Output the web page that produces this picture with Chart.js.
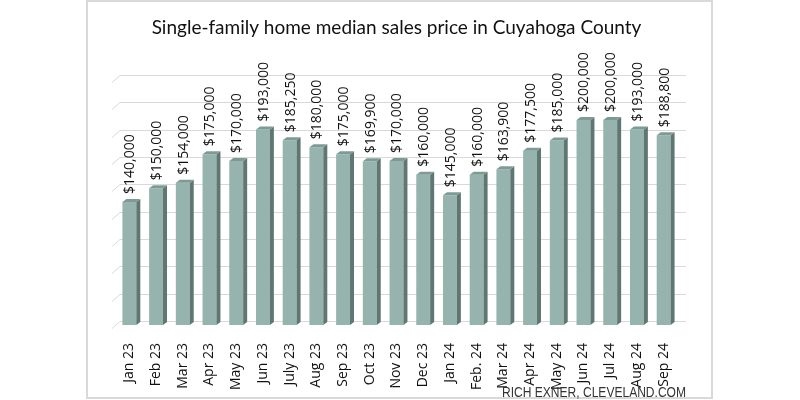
<!DOCTYPE html>
<html>
<head>
<meta charset="utf-8">
<script src="https://cdn.jsdelivr.net/npm/chart.js@4"></script>
<style>
  html, body { margin: 0; padding: 0; background: #fff; }
  #wrap { width: 800px; height: 400px; }
</style>
</head>
<body>
<div id="wrap"><canvas id="myChart"></canvas></div>
<script>
const meses = [
  "Jan 23", "Feb 23", "Mar 23", "Apr 23", "May 23", "Jun 23", "July 23",
  "Aug 23", "Sep 23", "Oct 23", "Nov 23", "Dec 23", "Jan 24", "Feb. 24",
  "Mar 24", "Apr 24", "May 24", "Jun 24", "Jul 24", "Aug 24", "Sep 24",
];
const precios = [
  140000, 150000, 154000, 175000, 170000, 193000, 185250,
  180000, 175000, 169900, 170000, 160000, 145000, 160000,
  163900, 177500, 185000, 200000, 200000, 193000, 188800,
];
const yMin = 50000;
const yMax = 230000;
const yStep = 20000;

const formato = (v) => "$" + v.toLocaleString("en-US");

// marco gris, lineas de fondo y texto de credito
const fondo = {
  id: "fondo",
  beforeDraw(chart) {
    const ctx = chart.ctx;
    ctx.save();
    ctx.strokeStyle = "#d9d9d9";
    ctx.lineWidth = 2;
    ctx.strokeRect(87, 1, 625, 397);
    ctx.restore();
  },
  beforeDatasetsDraw(chart) {
    const { ctx, chartArea } = chart;
    const y = chart.scales.y;
    ctx.save();
    ctx.strokeStyle = "#d9d9d9";
    ctx.lineWidth = 1;
    for (let v = yMin; v <= yMax; v += yStep) {
      const py = Math.round(y.getPixelForValue(v)) + 0.5;
      ctx.beginPath();
      ctx.moveTo(chartArea.left - 4, py + 3);
      ctx.lineTo(chartArea.left + 4, py - 4);
      ctx.lineTo(chartArea.right + 9, py - 4);
      ctx.stroke();
    }
    ctx.restore();
  },
  afterDraw(chart) {
    const ctx = chart.ctx;
    const txt = "RICH EXNER, CLEVELAND.COM";
    ctx.save();
    ctx.fillStyle = "#333";
    ctx.font = "14px 'Liberation Sans'";
    const w = ctx.measureText(txt).width;
    ctx.translate(502, 397);
    ctx.scale(184 / w, 1);
    ctx.textAlign = "left";
    ctx.textBaseline = "alphabetic";
    ctx.fillText(txt, 0, 0);
    ctx.restore();
  },
};

// caras 3D y etiquetas de valor
const barras3d = {
  id: "barras3d",
  afterDatasetsDraw(chart) {
    const ctx = chart.ctx;
    const meta = chart.getDatasetMeta(0);
    const fondoY = chart.chartArea.bottom;
    const dx = 4, dy = 3;
    ctx.save();
    meta.data.forEach((bar, i) => {
      const l = bar.x - bar.width / 2;
      const r = bar.x + bar.width / 2;
      const b = Math.min(bar.base, fondoY);
      // lado
      ctx.fillStyle = "#5f7672";
      ctx.beginPath();
      ctx.moveTo(r, bar.y);
      ctx.lineTo(r + dx, bar.y - dy);
      ctx.lineTo(r + dx, b - dy);
      ctx.lineTo(r, b);
      ctx.closePath();
      ctx.fill();
      // tapa
      ctx.fillStyle = "#7f9a96";
      ctx.beginPath();
      ctx.moveTo(l, bar.y);
      ctx.lineTo(l + dx, bar.y - dy);
      ctx.lineTo(r + dx, bar.y - dy);
      ctx.lineTo(r, bar.y);
      ctx.closePath();
      ctx.fill();

      ctx.save();
      ctx.translate(bar.x + 1, bar.y - 8);
      ctx.rotate(-Math.PI / 2);
      ctx.fillStyle = "#111";
      ctx.font = "14px 'Open Sans'";
      ctx.textAlign = "left";
      ctx.textBaseline = "middle";
      ctx.fillText(formato(precios[i]), 0, 0);
      ctx.restore();
    });
    ctx.restore();
  },
};

const data = {
  labels: meses,
  datasets: [
    {
      label: "Median sales price",
      data: precios,
      backgroundColor: "#96b3ae",
      borderWidth: 0,
      categoryPercentage: 1,
      barPercentage: 0.52,
    },
  ],
};

const config = {
  type: "bar",
  data,
  options: {
    responsive: true,
    maintainAspectRatio: false,
    animation: false,
    layout: {
      padding: { left: 116, right: 123, top: 0, bottom: 0 },
    },
    plugins: {
      legend: { display: false },
      tooltip: { enabled: false },
      title: {
        display: true,
        text: "Single-family home median sales price in Cuyahoga County",
        color: "#111",
        font: { family: "Lato", size: 19, weight: "normal" },
        padding: { top: 16, bottom: 40.2 },
      },
    },
    scales: {
      x: {
        grid: { display: false },
        border: { display: false },
        ticks: {
          color: "#111",
          font: { family: "Open Sans", size: 14 },
          minRotation: 90,
          maxRotation: 90,
          padding: 10,
          autoSkip: false,
        },
        afterFit(scale) {
          scale.height = 75;
        },
      },
      y: {
        display: false,
        min: yMin,
        max: yMax,
      },
    },
  },
  plugins: [fondo, barras3d],
};

const myChart = new Chart(document.getElementById("myChart"), config);
</script>
</body>
</html>
